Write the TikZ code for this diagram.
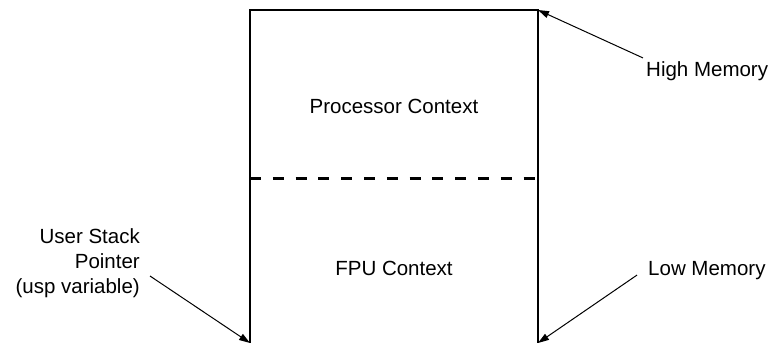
\documentclass[tikz,border=0pt]{standalone}
\usepackage{fontspec}
\setmainfont{Liberation Sans}
\usetikzlibrary{arrows.meta}

\begin{document}
\begin{tikzpicture}[x=1pt,y=-1pt,
    label/.style={font=\fontsize{20.5}{24.7}\selectfont,inner sep=3pt},
    pointer/.style={line width=1pt,-{Triangle[length=11pt,width=7pt]}}]
    \path[use as bounding box] (0,0) rectangle (769,343);
    % Stack frame.
    \coordinate (tl) at (250,10);
    \coordinate (tr) at (538,10);
    \coordinate (bl) at (250,343);
    \coordinate (br) at (538,343);
    \draw[line width=2pt] (bl) -- (tl) -- (tr) -- (br);
    \draw[line width=3pt,dash pattern=on 11pt off 11.8pt] (250,178) -- (538,178);
    % Contexts.
    \node[label,anchor=base] (proc) at (394,113) {Processor Context};
    \node[label,anchor=base] (fpu) at (394,275) {FPU Context};
    % Memory ends.
    \node[label,anchor=base west] (high) at (643,76) {High Memory};
    \draw[pointer] (high.north west) -- (tr);
    \node[label,anchor=base west] (low) at (645,275) {Low Memory};
    \draw[pointer] ([shift={(-8,5)}]low.west) -- (br);
    % Stack pointer.
    \node[label,anchor=base east,align=right] (usp) at (143,293) {User Stack\\Pointer\\(usp variable)};
    \draw[pointer] ([shift={(7,13)}]usp.east) -- (bl);
\end{tikzpicture}
\end{document}
